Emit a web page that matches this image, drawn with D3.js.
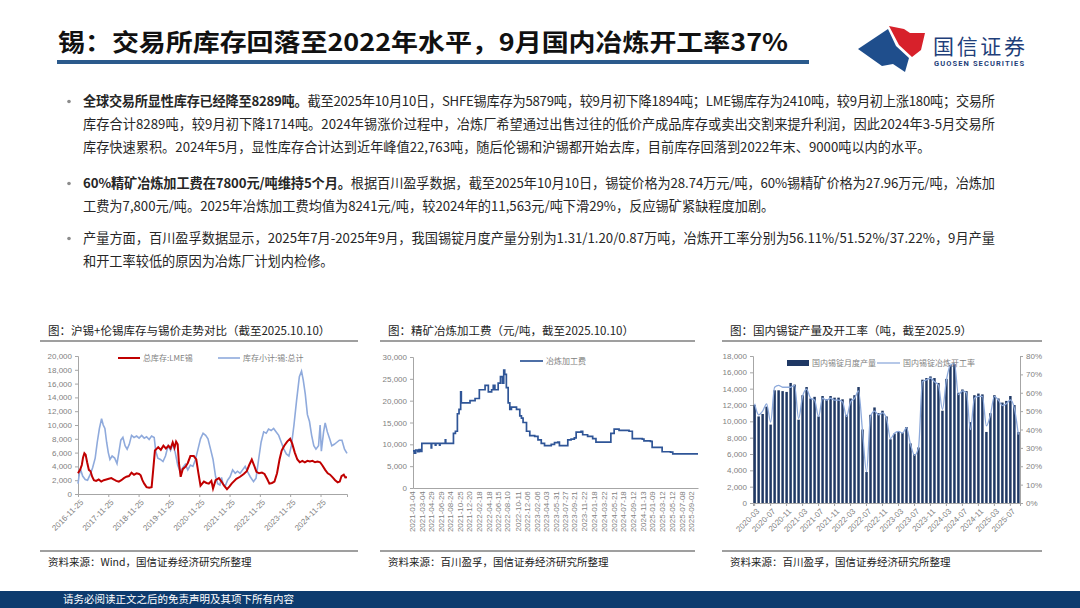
<!DOCTYPE html>
<html>
<head>
<meta charset="utf-8">
<script src="https://cdn.jsdelivr.net/npm/d3@7"></script>
<style>
  body { margin: 0; background: #fff; }
  svg { display: block; font-family: "Noto Sans CJK SC", "Noto Sans", sans-serif; }
  .axis text { fill: #7f7f7f; font-size: 8px; }
  .axis path, .axis line { stroke: #a6a6a6; }
</style>
</head>
<body>
<svg id="page" width="1080" height="608"></svg>
<script>
// ---- data ----
const lmeStock = [ // 总库存:LME锡
  ["2016-11-25",3000],["2016-12-20",3500],["2017-01-10",4200],["2017-01-25",5300],["2017-02-10",5900],
  ["2017-02-25",5700],["2017-03-15",4600],["2017-04-05",3500],["2017-04-25",3300],["2017-05-15",2500],
  ["2017-06-05",2000],["2017-07-01",1900],["2017-08-01",2100],["2017-09-01",1800],["2017-10-01",2000],
  ["2017-11-01",2100],["2017-12-01",2200],["2018-01-01",2300],["2018-02-01",2100],["2018-03-01",1900],
  ["2018-04-01",1800],["2018-05-01",2000],["2018-06-01",2300],["2018-07-01",2500],["2018-08-01",2600],
  ["2018-09-01",3100],["2018-10-01",2800],["2018-11-01",3000],["2018-12-01",2900],["2018-12-20",2700],
  ["2019-01-10",2000],["2019-02-01",1500],["2019-03-01",1000],["2019-04-01",900],["2019-05-01",1000],
  ["2019-05-20",3500],["2019-06-10",6300],["2019-07-20",6800],["2019-08-20",6400],["2019-09-20",7000],
  ["2019-10-20",6600],["2019-11-20",7000],["2019-12-15",6600],["2020-01-10",7500],["2020-02-01",6700],
  ["2020-02-20",7600],["2020-03-10",7200],["2020-03-25",4500],["2020-04-15",2500],["2020-05-10",3600],
  ["2020-06-15",4000],["2020-07-10",4500],["2020-08-10",5500],["2020-09-20",5500],["2020-10-20",5000],
  ["2020-11-15",3000],["2020-12-10",1200],["2021-01-20",1800],["2021-02-20",1600],["2021-03-20",1500],
  ["2021-04-20",1900],["2021-05-10",800],["2021-06-10",2000],["2021-07-20",2300],["2021-08-20",1800],
  ["2021-09-20",1200],["2021-10-25",700],["2021-11-25",1100],["2021-12-20",1500],["2022-02-15",2200],
  ["2022-04-01",2500],["2022-05-15",2900],["2022-06-20",3300],["2022-07-20",4200],["2022-08-20",5000],
  ["2022-09-15",4200],["2022-10-15",3200],["2022-11-15",3000],["2022-12-20",3100],["2023-01-20",2900],
  ["2023-02-20",2200],["2023-03-20",1500],["2023-04-20",1600],["2023-05-20",1800],["2023-06-20",3000],
  ["2023-07-20",5000],["2023-08-15",6300],["2023-09-15",7000],["2023-10-20",7600],["2023-11-25",8000],
  ["2023-12-20",7300],["2024-01-20",6000],["2024-02-20",5000],["2024-03-20",4600],["2024-04-20",4800],
  ["2024-05-20",4600],["2024-06-20",4800],["2024-07-20",4700],["2024-08-20",4800],["2024-09-20",4600],
  ["2024-10-20",4700],["2024-11-20",4600],["2024-12-20",4100],["2025-01-20",3500],["2025-02-20",3000],
  ["2025-03-20",2800],["2025-04-20",2400],["2025-05-20",2000],["2025-06-20",1700],["2025-07-15",1800],
  ["2025-08-05",2600],["2025-09-01",2800],["2025-09-20",2400],["2025-10-10",2410]
];
const shfeStock = [ // 库存小计:锡:总计
  ["2016-11-25",1500],["2016-12-10",2800],["2016-12-25",3600],["2017-01-20",2600],["2017-02-20",2100],
  ["2017-03-20",2000],["2017-04-20",2800],["2017-05-20",3800],["2017-06-20",5200],["2017-07-15",7500],
  ["2017-08-10",9500],["2017-09-05",10900],["2017-09-25",10000],["2017-10-15",9500],["2017-11-05",7500],
  ["2017-11-25",6000],["2017-12-15",5000],["2018-01-10",5500],["2018-02-10",5200],["2018-03-10",4400],
  ["2018-04-01",6000],["2018-04-25",7800],["2018-05-20",8200],["2018-06-15",7000],["2018-07-10",6500],
  ["2018-08-05",7200],["2018-09-01",8500],["2018-10-01",8200],["2018-11-01",8400],["2018-12-01",8100],
  ["2019-01-01",8500],["2019-02-01",8100],["2019-03-01",8300],["2019-04-01",7900],["2019-05-01",8400],
  ["2019-06-01",8200],["2019-06-20",6200],["2019-07-15",5200],["2019-08-15",5000],["2019-09-15",4700],
  ["2019-10-15",5500],["2019-11-15",7000],["2019-12-15",6300],["2020-01-10",7200],["2020-02-10",6000],
  ["2020-03-10",4200],["2020-04-10",3200],["2020-05-10",3800],["2020-06-10",4300],["2020-07-10",3500],
  ["2020-08-10",4200],["2020-09-10",4000],["2020-10-10",5000],["2020-11-10",6500],["2020-12-10",8000],
  ["2021-01-10",8800],["2021-02-10",8500],["2021-03-10",8000],["2021-04-10",6500],["2021-05-10",5000],
  ["2021-06-10",2500],["2021-07-05",1500],["2021-08-01",1300],["2021-08-20",2400],["2021-09-10",1400],
  ["2021-10-05",1200],["2021-11-01",2000],["2021-12-01",2500],["2022-01-01",3500],["2022-02-01",3000],
  ["2022-03-01",3300],["2022-04-01",3000],["2022-05-01",3500],["2022-06-01",4000],["2022-07-01",3200],
  ["2022-08-01",2500],["2022-09-10",1800],["2022-10-10",2300],["2022-11-10",5000],["2022-12-10",7500],
  ["2023-01-10",9000],["2023-02-10",8800],["2023-03-10",9400],["2023-04-10",9200],["2023-05-10",9500],
  ["2023-06-10",9000],["2023-07-10",8500],["2023-08-10",7500],["2023-09-10",6500],["2023-10-10",5800],
  ["2023-11-10",5500],["2023-12-10",7000],["2024-01-10",10000],["2024-02-10",13500],["2024-03-15",17000],
  ["2024-04-10",17800],["2024-05-01",16500],["2024-05-25",14500],["2024-06-20",11500],["2024-07-15",10500],
  ["2024-08-10",8500],["2024-09-05",7000],["2024-10-01",6500],["2024-11-01",7000],["2024-11-20",10000],
  ["2024-12-05",6200],["2025-01-01",9000],["2025-01-20",10300],["2025-02-15",9000],["2025-03-15",8000],
  ["2025-04-10",7000],["2025-05-10",7200],["2025-06-10",7500],["2025-07-10",7800],["2025-08-10",7800],
  ["2025-09-10",6500],["2025-10-10",5879]
];
const stockTicks = ["2016-11-25","2017-11-25","2018-11-25","2019-11-25","2020-11-25",
  "2021-11-25","2022-11-25","2023-11-25","2024-11-25"];

const tcFee = [ // 冶炼加工费, step changes
  ["2021-01-04",8500],["2021-01-12",8000],["2021-01-20",8700],["2021-02-01",8300],["2021-02-10",8800],
  ["2021-02-17",8400],["2021-02-27",10200],["2021-04-25",9200],["2021-04-28",10200],["2021-05-20",9800],
  ["2021-05-24",10200],["2021-06-15",9800],["2021-06-18",10200],["2021-07-20",11000],["2021-07-23",10200],
  ["2021-09-08",12500],["2021-09-20",13000],["2021-10-02",17000],["2021-10-12",18000],["2021-10-22",22000],
  ["2021-10-26",19500],["2021-12-18",20000],["2022-01-18",20500],["2022-02-13",22500],["2022-03-20",23500],
  ["2022-04-09",22000],["2022-04-29",22500],["2022-05-09",23500],["2022-05-19",22500],["2022-06-08",24000],
  ["2022-06-22",25500],["2022-07-04",24000],["2022-07-12",27000],["2022-07-18",26000],["2022-07-28",23000],
  ["2022-08-08",19500],["2022-08-18",18000],["2022-08-28",18500],["2022-09-28",18000],["2022-10-18",16500],
  ["2022-10-28",16000],["2022-11-07",15000],["2022-11-28",13000],["2022-12-18",12000],["2023-01-17",11800],
  ["2023-02-06",11000],["2023-02-26",10200],["2023-03-18",9700],["2023-04-28",10000],["2023-05-18",10400],
  ["2023-06-07",10500],["2023-06-17",9700],["2023-07-28",9700],["2023-08-07",11000],["2023-08-27",11200],
  ["2023-09-16",11500],["2023-09-27",12800],["2023-10-27",13000],["2023-11-06",12200],["2023-12-06",11800],
  ["2024-01-06",11300],["2024-01-26",10500],["2024-04-16",10500],["2024-04-26",12500],["2024-05-16",13500],
  ["2024-06-15",13200],["2024-08-15",13000],["2024-09-04",11300],["2024-11-04",11200],["2024-11-14",10800],
  ["2024-12-24",10700],["2025-01-03",9300],["2025-02-23",9300],["2025-03-05",8300],["2025-04-25",8200],
  ["2025-05-09",7800],["2025-10-10",7800]
];
const tcTicks = ["2021-01-04","2021-03-04","2021-04-29","2021-06-29","2021-08-24","2021-10-25",
  "2021-12-20","2022-02-18","2022-04-18","2022-06-15","2022-08-10","2022-10-11","2022-12-06",
  "2023-02-06","2023-04-03","2023-05-31","2023-07-27","2023-09-21","2023-11-22","2024-01-18",
  "2024-03-22","2024-05-21","2024-07-18","2024-09-12","2024-11-13","2025-01-09","2025-03-12",
  "2025-05-12","2025-07-08","2025-09-02"];

const months = ["2020-03","2020-04","2020-05","2020-06","2020-07","2020-08","2020-09","2020-10","2020-11","2020-12",
  "2021-01","2021-02","2021-03","2021-04","2021-05","2021-06","2021-07","2021-08","2021-09","2021-10","2021-11","2021-12",
  "2022-01","2022-02","2022-03","2022-04","2022-05","2022-06","2022-07","2022-08","2022-09","2022-10","2022-11","2022-12",
  "2023-01","2023-02","2023-03","2023-04","2023-05","2023-06","2023-07","2023-08","2023-09","2023-10","2023-11","2023-12",
  "2024-01","2024-02","2024-03","2024-04","2024-05","2024-06","2024-07","2024-08","2024-09","2024-10","2024-11","2024-12",
  "2025-01","2025-02","2025-03","2025-04","2025-05","2025-06","2025-07","2025-08","2025-09"];
const output = [12000,10600,10900,11800,9600,13800,13800,13700,13600,14700,
  14500,10200,13200,14200,12800,13000,10600,13100,12700,13100,12900,12900,
  12700,10800,12800,13200,14200,9000,3800,10800,11700,11000,11300,10600,
  7800,8500,8800,8600,9300,7300,6000,6800,15100,15300,15500,15300,
  14700,11300,15200,16900,17000,13500,13900,13700,9900,13200,13400,13300,
  8700,11000,13200,12800,12300,12500,13100,12000,8700];
const utilRate = [54,48,50,54,44,63,64,63,63,63,
  64,46,58,62,57,56,47,57,56,57,56,56,
  55,47,55,57,61,39,17,47,50,48,49,46,
  35,38,39,38,41,32,26,30,66,67,68,66,
  64,51,67,75,76,59,61,60,40,57,58,58,
  42,48,58,56,53,54,56.11,51.52,37.22];
const monthTicks = ["2020-03","2020-07","2020-11","2021-03","2021-07","2021-11","2022-03","2022-07",
  "2022-11","2023-03","2023-07","2023-11","2024-03","2024-07","2024-11","2025-03","2025-07"];

// ---- page frame ----
const svg = d3.select("#page");
const parse = d3.timeParse("%Y-%m-%d");

svg.append("text")
  .attr("x", 58).attr("y", 51)
  .attr("font-size", 24).attr("font-weight", 700).attr("fill", "#111")
  .attr("textLength", 730).attr("lengthAdjust", "spacingAndGlyphs")
  .text("锡：交易所库存回落至2022年水平，9月国内冶炼开工率37%");

svg.append("rect").attr("x", 57).attr("y", 60).attr("width", 752).attr("height", 4).attr("fill", "#2b5a8c");

// logo
svg.append("path").attr("d", "M858,49 L888,29 L896,46 L909,58 L905,72 L893,64 L882,66 Z").attr("fill", "#1f4e8c");
svg.append("path").attr("d", "M889,26 L904,29 L910,33 L925,33 L921,50 L912,57 L899,45 Z").attr("fill", "#d7212b");
svg.append("text").attr("x", 933).attr("y", 54).attr("font-size", 21).attr("fill", "#1f3f7a")
  .attr("textLength", 92).text("国信证券");
svg.append("text").attr("x", 934).attr("y", 66).attr("font-size", 7.5).attr("font-weight", 700)
  .attr("fill", "#1f3f7a").attr("textLength", 90).attr("font-family", "Roboto, sans-serif")
  .text("GUOSEN SECURITIES");

// body text
const bodyLines = [
  { y: 106, bold: "全球交易所显性库存已经降至8289吨。", text: "截至2025年10月10日，SHFE锡库存为5879吨，较9月初下降1894吨；LME锡库存为2410吨，较9月初上涨180吨；交易所", full: true, bullet: true },
  { y: 129, bold: "", text: "库存合计8289吨，较9月初下降1714吨。2024年锡涨价过程中，冶炼厂希望通过出售过往的低价产成品库存或卖出交割来提升利润，因此2024年3-5月交易所", full: true },
  { y: 152, bold: "", text: "库存快速累积。2024年5月，显性库存合计达到近年峰值22,763吨，随后伦锡和沪锡都开始去库，目前库存回落到2022年末、9000吨以内的水平。" },
  { y: 188, bold: "60%精矿冶炼加工费在7800元/吨维持5个月。", text: "根据百川盈孚数据，截至2025年10月10日，锡锭价格为28.74万元/吨，60%锡精矿价格为27.96万元/吨，冶炼加", full: true, bullet: true },
  { y: 211, bold: "", text: "工费为7,800元/吨。2025年冶炼加工费均值为8241元/吨，较2024年的11,563元/吨下滑29%，反应锡矿紧缺程度加剧。" },
  { y: 243, bold: "", text: "产量方面，百川盈孚数据显示，2025年7月-2025年9月，我国锡锭月度产量分别为1.31/1.20/0.87万吨，冶炼开工率分别为56.11%/51.52%/37.22%，9月产量", full: true, bullet: true },
  { y: 266, bold: "", text: "和开工率较低的原因为冶炼厂计划内检修。" }
];
bodyLines.forEach(l => {
  if (l.bullet) {
    svg.append("circle").attr("cx", 69).attr("cy", l.y - 4.5).attr("r", 1.8).attr("fill", "#8c8c8c");
  }
  const t = svg.append("text").attr("x", 83).attr("y", l.y).attr("font-size", 13.2).attr("fill", "#262626");
  if (l.full) t.attr("textLength", 912).attr("lengthAdjust", "spacing");
  if (l.bold) t.append("tspan").attr("font-weight", 700).text(l.bold);
  t.append("tspan").text(l.text);
});

// panel frames
function panel(x0, x1, title, source) {
  svg.append("text").attr("x", x0 + 8).attr("y", 335).attr("font-size", 11.5).attr("fill", "#222").text(title);
  svg.append("line").attr("x1", x0).attr("x2", x1).attr("y1", 341).attr("y2", 341).attr("stroke", "#404040").attr("stroke-width", 1.2);
  svg.append("line").attr("x1", x0).attr("x2", x1).attr("y1", 551).attr("y2", 551).attr("stroke", "#404040").attr("stroke-width", 1.2);
  svg.append("text").attr("x", x0 + 8).attr("y", 566).attr("font-size", 10.5).attr("fill", "#222").text(source);
}
panel(40, 358, "图：沪锡+伦锡库存与锡价走势对比（截至2025.10.10）", "资料来源：Wind，国信证券经济研究所整理");
panel(380, 695, "图：精矿冶炼加工费（元/吨，截至2025.10.10）", "资料来源：百川盈孚，国信证券经济研究所整理");
panel(722, 1042, "图：国内锡锭产量及开工率（吨，截至2025.9）", "资料来源：百川盈孚，国信证券经济研究所整理");

// ---- chart 1: inventories ----
const x1 = d3.scaleTime().domain([parse("2016-11-25"), parse("2025-10-10")]).range([78, 347]);
const y1 = d3.scaleLinear().domain([0, 20000]).range([494, 356]);

svg.append("g").attr("class", "axis").attr("transform", "translate(78,0)")
  .call(d3.axisLeft(y1).tickValues(d3.range(0, 20001, 2000)).tickSize(3).tickFormat(d3.format(",")))
  .call(g => g.select(".domain").attr("stroke", "#7f7f7f"));
svg.append("g").attr("class", "axis").attr("transform", "translate(0,494)")
  .call(d3.axisBottom(x1).tickValues(stockTicks.map(parse)).tickSize(3).tickFormat(d3.timeFormat("%Y-%m-%d")))
  .call(g => g.select(".domain").attr("stroke", "#404040"))
  .selectAll("text")
  .attr("text-anchor", "end").attr("transform", "rotate(-45)").attr("dx", "-0.3em").attr("dy", "0.5em");

const line1 = d3.line().x(d => x1(parse(d[0]))).y(d => y1(d[1]));
svg.append("path").datum(shfeStock).attr("d", line1).attr("fill", "none").attr("stroke", "#8faadc").attr("stroke-width", 1.6);
svg.append("path").datum(lmeStock).attr("d", line1).attr("fill", "none").attr("stroke", "#c00000").attr("stroke-width", 2);

svg.append("line").attr("x1", 118).attr("x2", 140).attr("y1", 358).attr("y2", 358).attr("stroke", "#c00000").attr("stroke-width", 2);
svg.append("text").attr("x", 143).attr("y", 361).attr("font-size", 8).attr("fill", "#7f7f7f").text("总库存:LME锡");
svg.append("line").attr("x1", 218).attr("x2", 240).attr("y1", 358).attr("y2", 358).attr("stroke", "#8faadc").attr("stroke-width", 1.6);
svg.append("text").attr("x", 243).attr("y", 361).attr("font-size", 8).attr("fill", "#7f7f7f").text("库存小计:锡:总计");

// ---- chart 2: TC fee ----
const x2 = d3.scaleTime().domain([parse("2021-01-04"), parse("2025-10-10")]).range([413, 698]);
const y2 = d3.scaleLinear().domain([0, 30000]).range([488, 357]);

svg.append("g").attr("class", "axis").attr("transform", "translate(413,0)")
  .call(d3.axisLeft(y2).tickValues(d3.range(0, 30001, 5000)).tickSize(3).tickFormat(d3.format(",")))
  .call(g => g.select(".domain").attr("stroke", "#7f7f7f"));
svg.append("g").attr("class", "axis").attr("transform", "translate(0,488)")
  .call(d3.axisBottom(x2).tickValues(tcTicks.map(parse)).tickSize(0).tickFormat(d3.timeFormat("%Y-%m-%d")))
  .call(g => g.select(".domain").attr("stroke", "#404040"))
  .selectAll("text")
  .attr("font-size", 7).attr("text-anchor", "end").attr("transform", "rotate(-90)")
  .attr("dx", "-0.4em").attr("dy", "-0.2em");

const line2 = d3.line().curve(d3.curveStepAfter).x(d => x2(parse(d[0]))).y(d => y2(d[1]));
svg.append("path").datum(tcFee).attr("d", line2).attr("fill", "none").attr("stroke", "#2f5597").attr("stroke-width", 1.7);

svg.append("line").attr("x1", 520).attr("x2", 543).attr("y1", 361).attr("y2", 361).attr("stroke", "#2f5597").attr("stroke-width", 1.7);
svg.append("text").attr("x", 546).attr("y", 364).attr("font-size", 8).attr("fill", "#7f7f7f").text("冶炼加工费");

// ---- chart 3: output and utilisation ----
const x3 = d3.scaleBand().domain(months).range([753, 1020]).paddingInner(0.38).paddingOuter(0.1);
const y3 = d3.scaleLinear().domain([0, 18000]).range([503, 356]);
const y3r = d3.scaleLinear().domain([0, 80]).range([503, 356]);

svg.append("g").attr("class", "axis").attr("transform", "translate(753,0)")
  .call(d3.axisLeft(y3).tickValues(d3.range(0, 18001, 2000)).tickSize(3).tickFormat(d3.format(",")))
  .call(g => g.select(".domain").attr("stroke", "#7f7f7f"));
svg.append("g").attr("class", "axis").attr("transform", "translate(1020,0)")
  .call(d3.axisRight(y3r).tickValues(d3.range(0, 81, 10)).tickSize(3).tickFormat(d => d + "%"))
  .call(g => g.select(".domain").attr("stroke", "#7f7f7f"));

svg.selectAll(".bar3").data(months).enter().append("rect")
  .attr("class", "bar3")
  .attr("x", d => x3(d)).attr("width", x3.bandwidth())
  .attr("y", (d, i) => y3(output[i])).attr("height", (d, i) => 503 - y3(output[i]))
  .attr("fill", "#1f3864");

svg.append("g").attr("class", "axis").attr("transform", "translate(0,503)")
  .call(d3.axisBottom(x3).tickValues(monthTicks).tickSize(3))
  .call(g => g.select(".domain").attr("stroke", "#404040"))
  .selectAll("text")
  .attr("text-anchor", "end").attr("transform", "rotate(-45)").attr("dx", "-0.3em").attr("dy", "0.5em");

const line3 = d3.line().curve(d3.curveMonotoneX)
  .x((d, i) => x3(months[i]) + x3.bandwidth() / 2).y(d => y3r(d));
svg.append("path").datum(utilRate).attr("d", line3).attr("fill", "none").attr("stroke", "#8eaadb").attr("stroke-width", 1.3);

svg.append("rect").attr("x", 787).attr("y", 360).attr("width", 22).attr("height", 6).attr("fill", "#1f3864");
svg.append("text").attr("x", 812).attr("y", 366).attr("font-size", 8).attr("fill", "#7f7f7f").text("国内锡锭月度产量");
svg.append("line").attr("x1", 877).attr("x2", 900).attr("y1", 363).attr("y2", 363).attr("stroke", "#8eaadb").attr("stroke-width", 1.3);
svg.append("text").attr("x", 903).attr("y", 366).attr("font-size", 8).attr("fill", "#7f7f7f").text("国内锡锭冶炼开工率");

// footer
svg.append("rect").attr("x", 0).attr("y", 591).attr("width", 1080).attr("height", 17).attr("fill", "#0d3b6e");
svg.append("text").attr("x", 63).attr("y", 603).attr("font-size", 10.5).attr("fill", "#fff").text("请务必阅读正文之后的免责声明及其项下所有内容");
</script>
</body>
</html>
